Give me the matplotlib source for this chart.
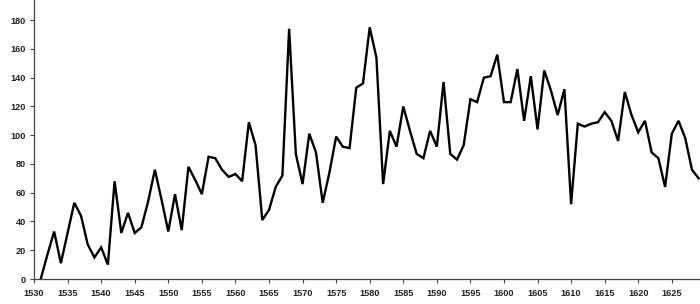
import numpy as np
import matplotlib
matplotlib.use("Agg")
import matplotlib.pyplot as plt

# yearly values
years = list(range(1531, 1630))
values = [
    0, 17, 33, 11, 32, 53, 44, 24, 15, 22,          # 1531-1540
    10, 68, 32, 46, 32, 36, 54, 76, 55, 33,         # 1541-1550
    59, 34, 78, 69, 59, 85, 84, 76, 71, 73,         # 1551-1560
    68, 109, 93, 41, 48, 64, 72, 174, 87, 66,       # 1561-1570
    101, 88, 53, 74, 99, 92, 91, 133, 136, 175,     # 1571-1580
    154, 66, 103, 92, 120, 103, 87, 84, 103, 92,    # 1581-1590
    137, 87, 83, 93, 125, 123, 140, 141, 156, 123,  # 1591-1600
    123, 146, 110, 141, 104, 145, 131, 114, 132, 52,  # 1601-1610
    108, 106, 108, 109, 116, 110, 96, 130, 114, 102,  # 1611-1620
    110, 88, 84, 64, 101, 110, 98, 76, 70,          # 1621-1629
]
x_ticks = list(range(1530, 1630, 5))
y_ticks = list(range(0, 181, 20))

plt.rcParams["font.family"] = ["Liberation Sans", "DejaVu Sans"]

fig = plt.figure(figsize=(7.0, 3.04), dpi=100)
ax = fig.add_axes([0.0486, 0.0822, 0.9514, 0.9178])

ax.plot(years, values, color="black", linewidth=1.7, solid_joinstyle="miter")

ax.set_xlim(1530, 1629.2)
ax.set_ylim(0, 194)
ax.set_xticks(x_ticks)
ax.set_yticks(y_ticks)

for side in ["top", "right"]:
    ax.spines[side].set_visible(False)
for side in ["left", "bottom"]:
    ax.spines[side].set_color("#444444")
    ax.spines[side].set_linewidth(0.9)

ax.tick_params(axis="both", direction="out", length=3, width=0.8,
               color="#444444", labelsize=6.6, pad=3)
ax.tick_params(axis="x", pad=4)
for lbl in ax.get_xticklabels() + ax.get_yticklabels():
    lbl.set_fontweight("bold")
    lbl.set_color("#222222")

fig.savefig("out.png", dpi=100)
